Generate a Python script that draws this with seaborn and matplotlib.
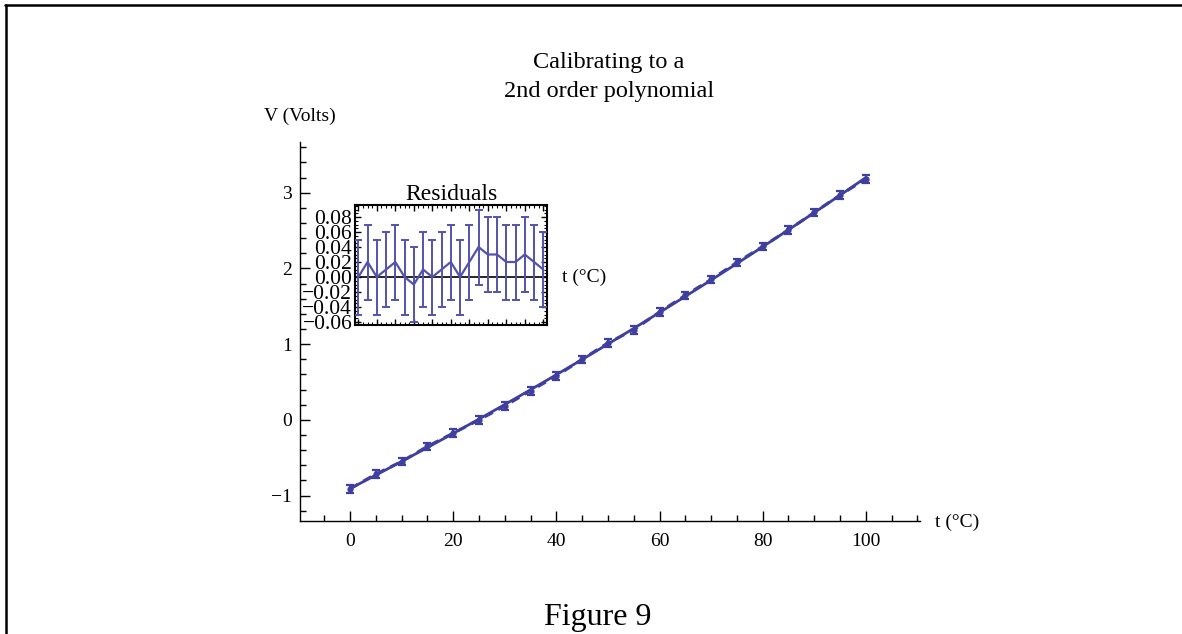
import numpy as np
import pandas as pd
import matplotlib
matplotlib.use("Agg")
import matplotlib.pyplot as plt
from matplotlib.ticker import MultipleLocator, FuncFormatter
from matplotlib.lines import Line2D
import seaborn as sns

# ---- data ----
temps = [0, 5, 10, 15, 20, 25, 30, 35, 40, 45, 50, 55, 60, 65, 70, 75, 80, 85, 90, 95, 100]
volts = [-0.91, -0.715, -0.55, -0.35, -0.175, 0.0, 0.184, 0.385, 0.58, 0.80, 1.017,
         1.19, 1.425, 1.645, 1.855, 2.08, 2.29, 2.51, 2.74, 2.97, 3.18]
volt_err = [0.05] * 21
residuals = [0.00, 0.02, 0.00, 0.01, 0.02, 0.00, -0.01, 0.01, 0.00, 0.01, 0.02,
             0.00, 0.02, 0.04, 0.03, 0.03, 0.02, 0.02, 0.03, 0.02, 0.01]
resid_err = [0.05] * 21
title_text = "Calibrating to a\n2nd order polynomial"
xlabel_text = "t (°C)"
ylabel_text = "V (Volts)"
inset_title = "Residuals"
caption = "Figure 9"

df = pd.DataFrame({"t": temps, "V": volts, "err": volt_err,
                   "res": residuals, "res_err": resid_err})
coef = np.polyfit(df["t"], df["V"], 2)
df["fit"] = np.polyval(coef, df["t"])

sns.set_style("white")
plt.rcParams["font.family"] = ["Liberation Serif", "DejaVu Serif"]
plt.rcParams["text.color"] = "black"
plt.rcParams["axes.labelcolor"] = "black"
plt.rcParams["xtick.color"] = "black"
plt.rcParams["ytick.color"] = "black"

col = "#3f3f9f"
col_in = "#5353ae"

fig = plt.figure(figsize=(11.82, 6.34), dpi=100)
fig.patch.set_facecolor("white")

W, H = 1182, 634
ax = fig.add_axes([300 / W, 1 - 521 / H, 620 / W, (521 - 142) / H])
ax.set_facecolor("white")

sns.lineplot(data=df, x="t", y="fit", ax=ax, color=col, lw=2.0, zorder=3)
sns.lineplot(data=df, x="t", y="V", ax=ax, color=col, lw=2.2, zorder=3,
             linestyle=(0, (3, 2)))
ax.errorbar(df["t"], df["V"], yerr=df["err"], fmt="o", ms=3.5, color=col,
            ecolor=col, elinewidth=1.6, capsize=3, capthick=1.6, zorder=4)

ax.set_xlim(-9.7, 110.5)
ax.set_ylim(-1.335, 3.67)
ax.set_xlabel("")
ax.set_ylabel("")
for s in ["top", "right"]:
    ax.spines[s].set_visible(False)
for s in ["left", "bottom"]:
    ax.spines[s].set_color("black")
    ax.spines[s].set_linewidth(1.0)
ax.xaxis.set_major_locator(MultipleLocator(20))
ax.xaxis.set_minor_locator(MultipleLocator(5))
ax.yaxis.set_major_locator(MultipleLocator(1))
ax.yaxis.set_minor_locator(MultipleLocator(0.2))
ax.tick_params(which="major", direction="in", length=7, width=1, colors="black",
               labelsize=14, pad=6)
ax.tick_params(axis="x", which="major", pad=9)
ax.tick_params(which="minor", direction="in", length=4, width=1, colors="black")
ax.tick_params(axis="x", which="both", bottom=True)
ax.tick_params(axis="y", which="both", left=True)

fig.text(935 / W, 1 - 522 / H, xlabel_text, fontsize=14, ha="left", va="center")
fig.text(300 / W, 1 - 116 / H, ylabel_text, fontsize=14, ha="center", va="center")
fig.text(609 / W, 1 - 77 / H, title_text, fontsize=17.5, ha="center", va="center",
         linespacing=1.45)
fig.text(598 / W, 1 - 617 / H, caption, fontsize=23, ha="center", va="center")

# ---- inset ----
axi = fig.add_axes([355 / W, 1 - 325 / H, 192 / W, 120 / H])
axi.set_facecolor("white")
axi.axhline(0, color="black", lw=1.2, zorder=2)
sns.lineplot(data=df, x="t", y="res", ax=axi, color=col_in, lw=1.6, zorder=3)
axi.errorbar(df["t"], df["res"], yerr=df["res_err"], fmt="none", ecolor=col_in,
             elinewidth=1.4, capsize=3, capthick=1.4, zorder=3)
axi.set_xlim(-1.8, 102)
axi.set_ylim(-0.064, 0.096)
axi.set_xlabel("")
axi.set_ylabel("")
for s in axi.spines.values():
    s.set_visible(True)
    s.set_color("black")
    s.set_linewidth(1.5)
axi.yaxis.set_major_locator(MultipleLocator(0.02))
axi.yaxis.set_minor_locator(MultipleLocator(0.005))
axi.yaxis.set_major_formatter(FuncFormatter(
    lambda v, p: ("\u2212%.2f" % abs(v)) if v < -1e-9 else "%.2f" % abs(v)))
axi.xaxis.set_major_locator(MultipleLocator(10))
axi.xaxis.set_minor_locator(MultipleLocator(2.5))
axi.tick_params(which="both", direction="in", top=True, right=True, left=True,
                bottom=True, colors="black", labelbottom=False)
axi.tick_params(which="major", length=4, width=1, labelsize=15.5, pad=2)
axi.tick_params(which="minor", length=2, width=0.8)
axi.set_title(inset_title, fontsize=17, pad=1)
axi.annotate(xlabel_text, xy=(1, 0), xycoords=("axes fraction", "data"),
             xytext=(11, 0), textcoords="offset points", fontsize=14,
             ha="left", va="center", annotation_clip=False)

# ---- page border ----
fig.add_artist(Line2D([5 / W, 1.0], [1 - 5 / H, 1 - 5 / H], transform=fig.transFigure,
                      color="black", lw=1.8))
fig.add_artist(Line2D([6 / W, 6 / W], [0, 1 - 5 / H], transform=fig.transFigure,
                      color="black", lw=1.8))

fig.savefig("out.png", dpi=100, facecolor="white")
